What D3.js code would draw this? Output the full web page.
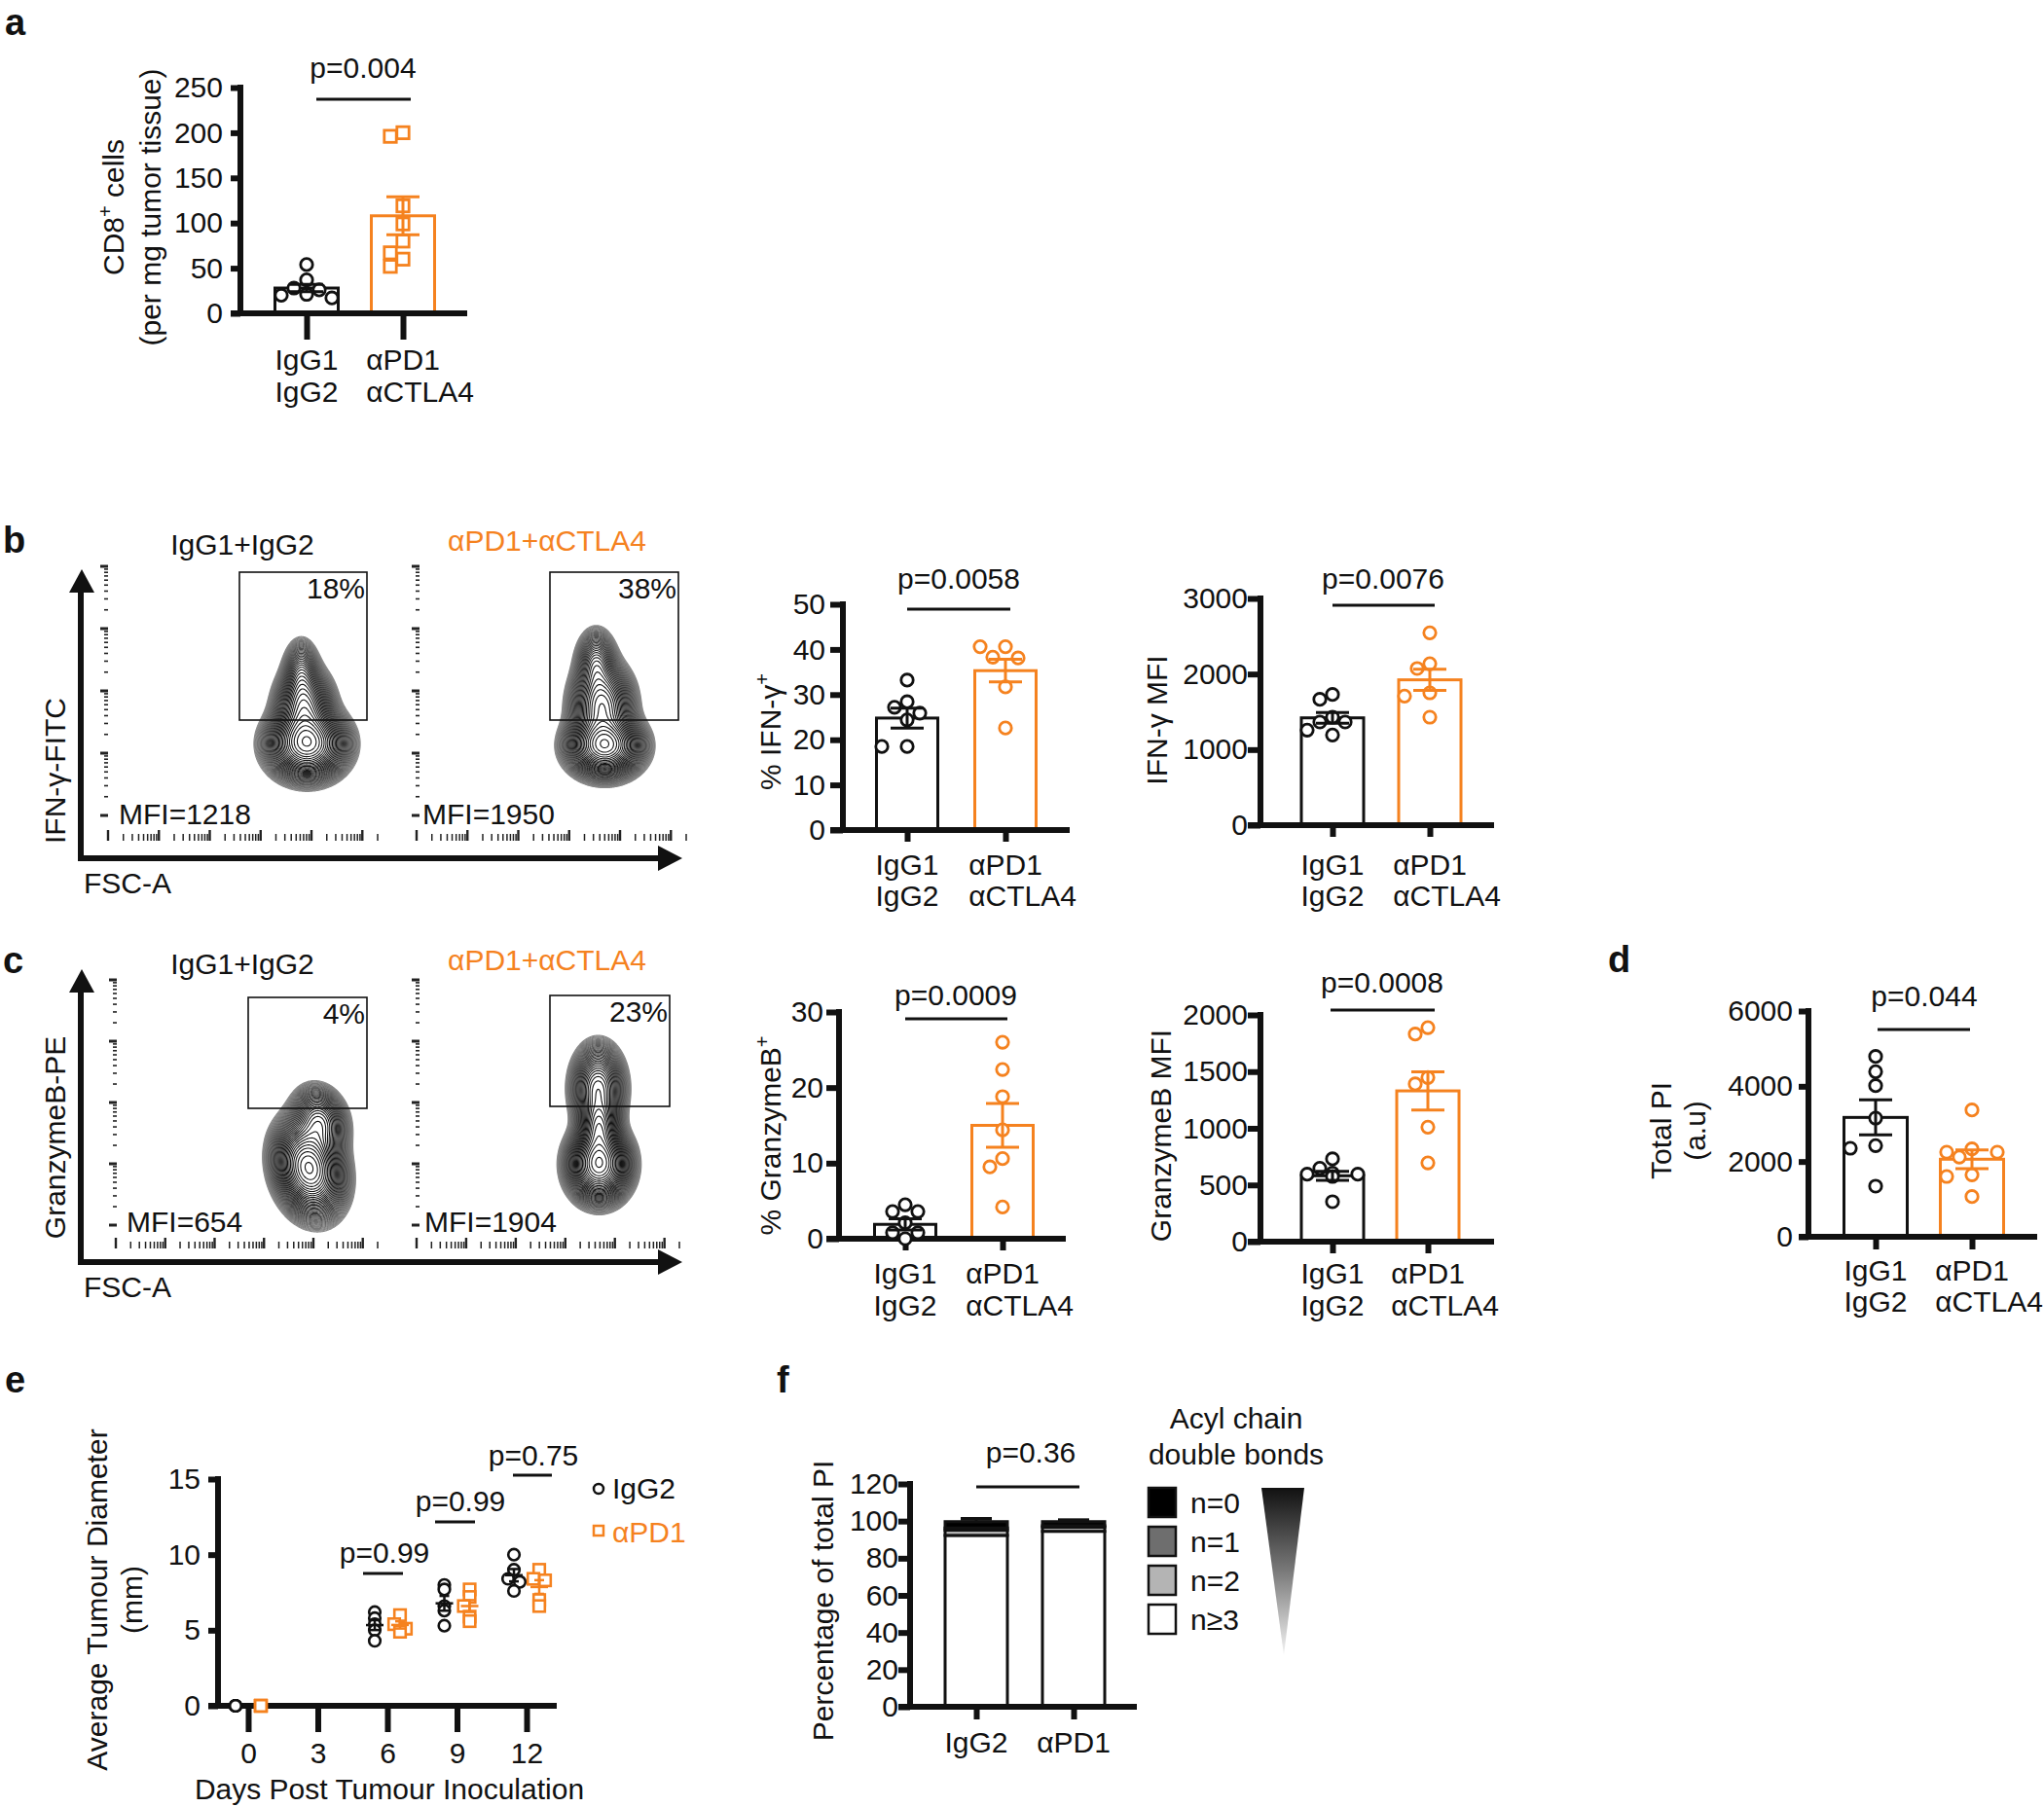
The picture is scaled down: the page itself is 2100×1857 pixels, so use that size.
<!DOCTYPE html>
<html lang="en">
<head>
  <meta charset="UTF-8">
  <title>CD8 / IFN-γ / GranzymeB / PI figure</title>
  <script src="https://d3js.org/d3.v7.min.js"></script>
  <style>
    body { margin: 0; background: #fff; }
  </style>
</head>
<body>
  <div id="fig"></div>
  <script>
    const W = 2100, H = 1857;
    const INK = "#111", ORANGE = "#f5821f";
    const FONT = '"Liberation Sans", Arial, Helvetica, sans-serif';
    const FS = 30;

    // ---------- data ----------
    const groups = ["IgG1\nIgG2", "αPD1\nαCTLA4"];

    const cd8Ctrl = [54, 37, 28, 26, 21, 20, 17];
    const cd8Treat = [200, 196, 119, 99, 80, 67, 60, 52];
    const cd8Mean = [28, 108], cd8Sem = [4, 21];

    const ifnPctCtrl = [33.2, 28.4, 27.2, 25.9, 24.4, 18.5, 18.5];
    const ifnPctTreat = [40.6, 40.6, 38.3, 38.1, 31.7, 22.6];
    const ifnPctMean = [24.8, 35.3], ifnPctSem = [2.2, 2.5];

    const ifnMfiCtrl = [1729, 1665, 1429, 1365, 1365, 1258, 1193];
    const ifnMfiTreat = [2545, 2137, 2073, 1751, 1708, 1429];
    const ifnMfiMean = [1420, 1923], ifnMfiSem = [70, 140];

    const gzbPctCtrl = [4.5, 3.6, 3.6, 2.1, 0.8, 0.8, 0];
    const gzbPctTreat = [26.0, 22.4, 18.8, 14.4, 10.6, 9.5, 4.2];
    const gzbPctMean = [1.9, 15.0], gzbPctSem = [0.75, 2.9];

    const gzbMfiCtrl = [730, 647, 604, 595, 595, 575, 352];
    const gzbMfiTreat = [1888, 1831, 1448, 1391, 1010, 695];
    const gzbMfiMean = [581, 1330], gzbMfiSem = [40, 168];

    const piCtrl = [4792, 4388, 4016, 3155, 2423, 2353, 1345];
    const piTreat = [3370, 2335, 2250, 2250, 2120, 1647, 1603, 1068];
    const piMean = [3172, 2061], piSem = [465, 250];

    // panel e: tumour diameter (mm) per day
    const days = [0, 6, 9, 12];
    const dayTicks = [0, 3, 6, 9, 12];
    const tumIgG2 = [[0, 0, 0, 0, 0], [6.2, 5.8, 5.4, 5.0, 4.3], [8.0, 7.7, 6.6, 6.3, 5.3], [10.0, 9.0, 8.4, 8.2, 7.6]];
    const tumPD1 = [[0, 0, 0, 0, 0], [6.0, 5.4, 5.1, 4.9], [7.7, 7.2, 6.6, 5.9, 5.6], [9.0, 8.4, 8.3, 7.0, 6.6]];
    const tumP = ["p=0.99", "p=0.99", "p=0.75"];

    // panel f: share of total PI by acyl chain double bonds
    const bondKeys = ["n≥3", "n=2", "n=1", "n=0"];
    const bondFill = ["#ffffff", "#b4b4b4", "#6e6e6e", "#000000"];
    const fGroups = ["IgG2", "αPD1"];
    const shareIgG2 = [92.3, 2.8, 1.2, 3.4];
    const sharePD1 = [94.5, 2.2, 0.8, 2.2];
    const shareTopSem = [1.7, 1.0];

    // flow contour shapes: [cx, cy, sx, sy, rotation, weight]
    const flowB1 = [[315, 764, 19, 17, 0, 1], [312, 726, 14, 19, 0, 0.5], [309, 692, 9, 17, 0, 0.2]];
    const flowB2 = [[621, 766, 18, 15, 0, 1], [618, 725, 15, 21, 0, 0.6], [612, 682, 10, 17, 0, 0.25]];
    const flowC1 = [[317, 1200, 16, 23, -0.25, 1], [328, 1152, 13, 17, -0.3, 0.35]];
    const flowC2 = [[615, 1196, 15, 18, 0, 1], [615, 1158, 10, 16, 0, 0.5], [614, 1118, 13, 21, 0, 0.45]];

    const svg = d3.select("#fig").append("svg")
      .attr("width", W).attr("height", H)
      .attr("font-family", FONT).attr("font-size", FS)
      .style("background", "#fff");

    // ---------- helpers ----------
    function text(g, x, y, s, anchor, color, size, weight) {
      return g.append("text").attr("x", x).attr("y", y)
        .attr("text-anchor", anchor || "start")
        .attr("fill", color || INK)
        .attr("font-size", size || FS)
        .attr("font-weight", weight || null)
        .text(s);
    }

    // "CD8^+^ cells" -> superscript between carets
    function rich(t, s) {
      s.split("^").forEach((part, i) => {
        if (!part) return;
        const sp = t.append("tspan").text(part);
        if (i % 2) sp.attr("font-size", 20).attr("dy", -12);
        else if (i > 0) sp.attr("dy", 12);
      });
    }

    function vTitle(g, x, cy, s) {
      const t = g.append("text").attr("transform", `translate(${x},${cy}) rotate(-90)`)
        .attr("text-anchor", "middle").attr("fill", INK);
      rich(t, s);
    }

    function swarm(vals, y, step, minD, maxOff) {
      const placed = [], out = new Array(vals.length);
      const order = vals.map((v, i) => i).sort((a, b) => vals[b] - vals[a]);
      order.forEach(i => {
        const py = y(vals[i]);
        let off = 0;
        for (let k = 0; k < 20; k++) {
          const c = k === 0 ? 0 : (k % 2 ? -1 : 1) * Math.ceil(k / 2) * step;
          if (Math.abs(c) > maxOff) break;
          if (placed.every(p => Math.hypot(p.dx - c, p.y - py) >= minD)) { off = c; break; }
        }
        placed.push({ dx: off, y: py });
        out[i] = { dx: off, y: py };
      });
      return out;
    }

    function marks(g, pts, shape, color, r, sw) {
      if (shape === "circle") {
        g.selectAll(null).data(pts).join("circle")
          .attr("cx", d => d.x).attr("cy", d => d.y).attr("r", r)
          .attr("fill", "#fff").attr("stroke", color).attr("stroke-width", sw);
      } else {
        g.selectAll(null).data(pts).join("rect")
          .attr("x", d => d.x - r).attr("y", d => d.y - r)
          .attr("width", 2 * r).attr("height", 2 * r)
          .attr("fill", "#fff").attr("stroke", color).attr("stroke-width", sw);
      }
    }

    function errBar(g, x, y1, y2, half, color, sw) {
      g.append("line").attr("x1", x).attr("x2", x).attr("y1", y1).attr("y2", y2)
        .attr("stroke", color).attr("stroke-width", sw);
      [y1, y2].forEach(yy => g.append("line")
        .attr("x1", x - half).attr("x2", x + half).attr("y1", yy).attr("y2", yy)
        .attr("stroke", color).attr("stroke-width", sw));
    }

    function hline(g, x1, x2, y, sw) {
      g.append("line").attr("x1", x1).attr("x2", x2).attr("y1", y).attr("y2", y)
        .attr("stroke", INK).attr("stroke-width", sw || 3);
    }

    function yAxis(g, y, ax, ticks, len, labelRight) {
      const pad = Math.max(0, ax - 3 - len - labelRight);
      const a = g.append("g").attr("transform", `translate(${ax},0)`)
        .call(d3.axisLeft(y).tickValues(ticks).tickFormat(d3.format("d"))
          .tickSize(len + 3).tickPadding(pad).tickSizeOuter(0));
      a.attr("font-family", FONT).attr("font-size", FS);
      a.select(".domain").remove();
      a.selectAll(".tick line").attr("stroke", INK).attr("stroke-width", 6);
      a.selectAll(".tick text").attr("fill", INK);
      g.append("line").attr("x1", ax).attr("x2", ax)
        .attr("y1", y.range()[1] - 3).attr("y2", y.range()[0] + 3)
        .attr("stroke", INK).attr("stroke-width", 6);
    }

    function xAxisLine(g, x, ax, yTick, xEnd, y0, tickLen) {
      g.append("line").attr("x1", ax - yTick - 3).attr("x2", xEnd).attr("y1", y0).attr("y2", y0)
        .attr("stroke", INK).attr("stroke-width", 6);
      g.append("g").attr("transform", `translate(0,${y0})`)
        .call(d3.axisBottom(x).tickSize(tickLen + 3).tickFormat(""))
        .call(a => {
          a.select(".domain").remove();
          a.selectAll(".tick line").attr("stroke", INK).attr("stroke-width", 6);
        });
    }

    function twoLineLabels(g, x, labels, b1, b2) {
      labels.forEach((lab, i) => {
        const [l1, l2] = lab.split("\n");
        const t1 = text(g, x(i), b1, l1, "middle");
        const bx = t1.node().getBBox().x;
        text(g, bx, b2, l2, "start");
      });
    }

    // ---------- bar + scatter chart (panels a-d) ----------
    function barChart(c) {
      const g = svg.append("g");
      const cols = [INK, ORANGE];
      const y = d3.scaleLinear().domain([0, c.yMax]).range([c.y0, c.yTop]);
      const x = d3.scalePoint().domain([0, 1]).range(c.cx);

      g.selectAll(null).data(c.mean).join("rect")
        .attr("x", (d, i) => x(i) - c.bw / 2).attr("y", d => y(d))
        .attr("width", c.bw).attr("height", d => c.y0 - y(d))
        .attr("fill", "#fff").attr("stroke", (d, i) => cols[i]).attr("stroke-width", 3);

      yAxis(g, y, c.ax, c.ticks, c.yTick, c.labR);
      xAxisLine(g, x, c.ax, c.yTick, c.xEnd, c.y0, c.xTick);

      [c.ctrl, c.treat].forEach((vals, i) => {
        const pts = swarm(vals, y, 13, 13.5, 40).map(p => ({ x: x(i) + p.dx, y: p.y }));
        marks(g, pts, c.shapes[i], cols[i], 6.2, 2.8);
      });
      c.mean.forEach((m, i) => errBar(g, x(i), y(m - c.sem[i]), y(m + c.sem[i]), 17, cols[i], 3));

      text(g, c.p[0], c.p[1], c.pText, "middle");
      hline(g, c.p[2], c.p[3], c.p[4]);
      c.titles.forEach(t => vTitle(g, t[0], c.tY, t[1]));
      twoLineLabels(g, x, groups, c.lab[0], c.lab[1]);
    }

    barChart({ ax: 247, y0: 322, yTop: 90, yMax: 250, ticks: d3.range(0, 251, 50), yTick: 7, labR: 229,
      cx: [315, 414], bw: 65, xEnd: 480, xTick: 24,
      ctrl: cd8Ctrl, treat: cd8Treat, mean: cd8Mean, sem: cd8Sem, shapes: ["circle", "square"],
      pText: "p=0.004", p: [373, 80, 325, 422, 102],
      titles: [[127, "CD8^+^ cells"], [165, "(per mg tumor tissue)"]], tY: 213, lab: [380, 413] });

    barChart({ ax: 866, y0: 853, yTop: 621, yMax: 50, ticks: d3.range(0, 51, 10), yTick: 10, labR: 848,
      cx: [932, 1033], bw: 63, xEnd: 1099, xTick: 9,
      ctrl: ifnPctCtrl, treat: ifnPctTreat, mean: ifnPctMean, sem: ifnPctSem, shapes: ["circle", "circle"],
      pText: "p=0.0058", p: [985, 605, 932, 1038, 626],
      titles: [[802, "% IFN-γ^+"]], tY: 752, lab: [899, 931] });

    barChart({ ax: 1295, y0: 848, yTop: 615, yMax: 3000, ticks: d3.range(0, 3001, 1000), yTick: 10, labR: 1282,
      cx: [1369, 1469], bw: 64, xEnd: 1535, xTick: 9,
      ctrl: ifnMfiCtrl, treat: ifnMfiTreat, mean: ifnMfiMean, sem: ifnMfiSem, shapes: ["circle", "circle"],
      pText: "p=0.0076", p: [1421, 605, 1369, 1474, 622],
      titles: [[1199, "IFN-γ MFI"]], tY: 740, lab: [899, 931] });

    barChart({ ax: 862, y0: 1273, yTop: 1040, yMax: 30, ticks: d3.range(0, 31, 10), yTick: 10, labR: 846,
      cx: [930, 1030], bw: 63, xEnd: 1095, xTick: 9,
      ctrl: gzbPctCtrl, treat: gzbPctTreat, mean: gzbPctMean, sem: gzbPctSem, shapes: ["circle", "circle"],
      pText: "p=0.0009", p: [982, 1033, 930, 1035, 1047],
      titles: [[802, "% GranzymeB^+"]], tY: 1167, lab: [1319, 1352] });

    barChart({ ax: 1295, y0: 1276, yTop: 1043, yMax: 2000, ticks: d3.range(0, 2001, 500), yTick: 10, labR: 1282,
      cx: [1369, 1467], bw: 64, xEnd: 1535, xTick: 9,
      ctrl: gzbMfiCtrl, treat: gzbMfiTreat, mean: gzbMfiMean, sem: gzbMfiSem, shapes: ["circle", "circle"],
      pText: "p=0.0008", p: [1420, 1020, 1367, 1474, 1038],
      titles: [[1203, "GranzymeB MFI"]], tY: 1167, lab: [1319, 1352] });

    barChart({ ax: 1858, y0: 1271, yTop: 1039, yMax: 6000, ticks: d3.range(0, 6001, 2000), yTick: 7, labR: 1842,
      cx: [1927, 2026], bw: 65, xEnd: 2093, xTick: 10,
      ctrl: piCtrl, treat: piTreat, mean: piMean, sem: piSem, shapes: ["circle", "circle"],
      pText: "p=0.044", p: [1977, 1034, 1929, 2024, 1058],
      titles: [[1717, "Total PI"], [1752, "(a.u)"]], tY: 1162, lab: [1316, 1348] });

    // ---------- flow cytometry contour panels (b, c) ----------
    function contours(g, blobs, region) {
      const [x0, y0, w, h] = region;
      const vals = new Float64Array(w * h);
      for (let j = 0; j < h; j++) for (let i = 0; i < w; i++) {
        let s = 0;
        blobs.forEach(([cx, cy, sx, sy, rot, wt]) => {
          const dx = x0 + i - cx, dy = y0 + j - cy;
          const u = dx * Math.cos(rot) + dy * Math.sin(rot);
          const v = -dx * Math.sin(rot) + dy * Math.cos(rot);
          s += wt * Math.exp(-0.5 * (u * u / (sx * sx) + v * v / (sy * sy)));
        });
        vals[j * w + i] = s;
      }
      const mx = d3.max(vals), n = 40;
      const th = d3.range(n).map(k => mx * 0.015 * Math.pow(0.97 / 0.015, k / (n - 1)));
      const col = d3.interpolateRgb("#8a8a8a", "#151515");
      g.append("g").attr("transform", `translate(${x0},${y0})`)
        .selectAll("path").data(d3.contours().size([w, h]).thresholds(th)(Array.from(vals)))
        .join("path").attr("d", d3.geoPath())
        .attr("fill", "none").attr("stroke", (d, k) => col(Math.min(1, 1.4 * k / (n - 1))))
        .attr("stroke-width", 1.1);
    }

    function flowTicks(g, colX, colY0, colY1, rowY, rowX0, rowX1) {
      const ly = d3.scaleLog().domain([1, 1e4]).range([colY1, colY0]);
      const lx = d3.scaleLog().domain([1, 2e5]).range([rowX0, rowX1]);
      const major = v => Math.abs(Math.log10(v) % 1) < 1e-9;
      g.selectAll(null).data(ly.ticks()).join("line")
        .attr("x1", d => major(d) ? colX - 5 : colX - 1).attr("x2", colX + 3)
        .attr("y1", d => ly(d)).attr("y2", d => ly(d))
        .attr("stroke", "#222").attr("stroke-width", d => major(d) ? 3 : 1.6);
      g.selectAll(null).data(lx.ticks()).join("line")
        .attr("x1", d => lx(d)).attr("x2", d => lx(d))
        .attr("y1", d => major(d) ? rowY - 7 : rowY - 3).attr("y2", rowY + 4)
        .attr("stroke", "#222").attr("stroke-width", d => major(d) ? 2.4 : 1.5);
    }

    function flowPanel(f) {
      const g = svg.append("g");
      g.append("line").attr("x1", 83).attr("x2", 83).attr("y1", f.top + 22).attr("y2", f.base + 3)
        .attr("stroke", INK).attr("stroke-width", 6);
      g.append("path").attr("d", `M84,${f.top}L71,${f.top + 24}L97,${f.top + 24}Z`).attr("fill", INK);
      g.append("line").attr("x1", 80).attr("x2", 678).attr("y1", f.base).attr("y2", f.base)
        .attr("stroke", INK).attr("stroke-width", 6);
      g.append("path").attr("d", `M701,${f.base}L676,${f.base - 13}L676,${f.base + 13}Z`).attr("fill", INK);
      vTitle(g, 67, f.titleY, f.yTitle);
      text(g, 86, f.base + 36, "FSC-A");
      text(g, 249, f.headY, "IgG1+IgG2", "middle");
      text(g, 562, f.headY - 4, "αPD1+αCTLA4", "middle", ORANGE);

      f.plots.forEach(p => {
        flowTicks(g, p.colX, f.colY0, f.colY1, f.rowY, p.rowX0, p.rowX1);
        contours(g, p.blobs, p.region);
        g.append("rect").attr("x", p.gate[0]).attr("y", p.gate[1])
          .attr("width", p.gate[2] - p.gate[0]).attr("height", p.gate[3] - p.gate[1])
          .attr("fill", "none").attr("stroke", INK).attr("stroke-width", 1.6);
        text(g, p.gate[2] - 2, p.gate[1] + 27, p.pct, "end");
        text(g, p.mfiX, f.mfiY, p.mfi, "start");
      });
    }

    flowPanel({ top: 585, base: 882, titleY: 792, yTitle: "IFN-γ-FITC", headY: 570,
      colY0: 582, colY1: 838, rowY: 860, mfiY: 847,
      plots: [
        { colX: 108, rowX0: 111, rowX1: 388, blobs: flowB1, region: [230, 620, 170, 220],
          gate: [246, 588, 377, 740], pct: "18%", mfi: "MFI=1218", mfiX: 122 },
        { colX: 428, rowX0: 428, rowX1: 705, blobs: flowB2, region: [540, 610, 170, 220],
          gate: [565, 588, 697, 740], pct: "38%", mfi: "MFI=1950", mfiX: 434 }
      ] });

    flowPanel({ top: 996, base: 1297, titleY: 1169, yTitle: "GranzymeB-PE", headY: 1001,
      colY0: 1007, colY1: 1259, rowY: 1279, mfiY: 1266,
      plots: [
        { colX: 117, rowX0: 119, rowX1: 388, blobs: flowC1, region: [230, 1080, 170, 200],
          gate: [255, 1025, 377, 1139], pct: "4%", mfi: "MFI=654", mfiX: 130 },
        { colX: 428, rowX0: 428, rowX1: 698, blobs: flowC2, region: [540, 1040, 160, 230],
          gate: [565, 1023, 688, 1137], pct: "23%", mfi: "MFI=1904", mfiX: 436 }
      ] });

    // ---------- panel e ----------
    (function () {
      const g = svg.append("g");
      const x = d3.scaleLinear().domain([-1.3, 13.3]).range([224, 572]);
      const y = d3.scaleLinear().domain([0, 15]).range([1753, 1520]);
      yAxis(g, y, 224, [0, 5, 10, 15], 7, 206);
      g.append("line").attr("x1", 214).attr("x2", 572).attr("y1", 1753).attr("y2", 1753)
        .attr("stroke", INK).attr("stroke-width", 6);
      const xa = g.append("g").attr("transform", "translate(0,1753)")
        .call(d3.axisBottom(x).tickValues(dayTicks).tickSize(27).tickPadding(11));
      xa.attr("font-family", FONT).attr("font-size", FS);
      xa.select(".domain").remove();
      xa.selectAll(".tick line").attr("stroke", INK).attr("stroke-width", 6);
      xa.selectAll(".tick text").attr("fill", INK);

      [[tumIgG2, INK, "circle", -13], [tumPD1, ORANGE, "square", 13]].forEach(([set, col, shape, off]) => {
        set.forEach((vals, k) => {
          const cx = x(days[k]) + off;
          const pts = swarm(vals, y, 6, 10, 8).map(p => ({ x: cx + p.dx, y: p.y }));
          marks(g, pts, shape, col, 5.8, 2.6);
          if (k > 0) {
            const m = d3.mean(vals), se = d3.deviation(vals) / Math.sqrt(vals.length);
            g.append("line").attr("x1", cx - 9).attr("x2", cx + 9).attr("y1", y(m)).attr("y2", y(m))
              .attr("stroke", col).attr("stroke-width", 2.5);
            errBar(g, cx, y(m - se), y(m + se), 5, col, 2.5);
          }
        });
      });

      const pl = [[395, 1606, 373, 414, 1617], [473, 1553, 447, 488, 1564], [548, 1506, 527, 567, 1516]];
      tumP.forEach((s, i) => { text(g, pl[i][0], pl[i][1], s, "middle"); hline(g, pl[i][2], pl[i][3], pl[i][4]); });

      vTitle(g, 110, 1644, "Average Tumour Diameter");
      vTitle(g, 146, 1644, "(mm)");
      text(g, 400, 1849, "Days Post Tumour Inoculation", "middle");

      g.append("circle").attr("cx", 615).attr("cy", 1530).attr("r", 5)
        .attr("fill", "#fff").attr("stroke", INK).attr("stroke-width", 2.5);
      text(g, 629, 1540, "IgG2");
      g.append("rect").attr("x", 610).attr("y", 1568).attr("width", 10).attr("height", 10)
        .attr("fill", "#fff").attr("stroke", ORANGE).attr("stroke-width", 2.5);
      text(g, 629, 1585, "αPD1", "start", ORANGE);
    })();

    // ---------- panel f ----------
    (function () {
      const g = svg.append("g");
      const x = d3.scalePoint().domain(fGroups).range([1003, 1103]);
      const y = d3.scaleLinear().domain([0, 120]).range([1754, 1525]);
      const rows = [shareIgG2, sharePD1].map((s, i) => {
        const r = { group: fGroups[i] };
        bondKeys.forEach((k, j) => r[k] = s[j]);
        return r;
      });
      const series = d3.stack().keys(bondKeys)(rows);
      series.forEach((s, si) => {
        g.selectAll(null).data(s).join("rect")
          .attr("x", d => x(d.data.group) - 32).attr("width", 64)
          .attr("y", d => y(d[1])).attr("height", d => y(d[0]) - y(d[1]))
          .attr("fill", bondFill[si]).attr("stroke", INK).attr("stroke-width", 3);
      });
      const top = series[series.length - 1];
      top.forEach((d, i) => errBar(g, x(d.data.group), y(d[1]), y(d[1] + shareTopSem[i]), 16, INK, 3));

      yAxis(g, y, 935, d3.range(0, 121, 20), 9, 924);
      xAxisLine(g, x, 935, 9, 1168, 1754, 10);
      fGroups.forEach(k => text(g, x(k), 1801, k, "middle"));
      text(g, 1059, 1503, "p=0.36", "middle");
      hline(g, 1003, 1109, 1528);
      vTitle(g, 856, 1645, "Percentage of total PI");

      text(g, 1270, 1468, "Acyl chain", "middle");
      text(g, 1270, 1505, "double bonds", "middle");
      const legend = bondKeys.slice().reverse();
      const legFill = bondFill.slice().reverse();
      legend.forEach((k, i) => {
        g.append("rect").attr("x", 1180).attr("y", 1529 + i * 40).attr("width", 28).attr("height", 30)
          .attr("fill", legFill[i]).attr("stroke", INK).attr("stroke-width", 2.5);
        text(g, 1223, 1555 + i * 40, k);
      });
      const grad = svg.append("defs").append("linearGradient").attr("id", "tri")
        .attr("x1", 0).attr("y1", 0).attr("x2", 0).attr("y2", 1);
      grad.append("stop").attr("offset", 0).attr("stop-color", "#111");
      grad.append("stop").attr("offset", 0.5).attr("stop-color", "#7a7a7a");
      grad.append("stop").attr("offset", 1).attr("stop-color", "#f4f4f4");
      g.append("path").attr("d", "M1296,1529L1340,1529L1319,1701Z").attr("fill", "url(#tri)");
    })();

    // ---------- panel letters ----------
    [["a", 5, 36], ["b", 3, 568], ["c", 3, 1000], ["d", 1652, 999], ["e", 5, 1431], ["f", 798, 1431]]
      .forEach(([s, x, y]) => text(svg, x, y, s, "start", INK, 38, "bold"));
  </script>
</body>
</html>
